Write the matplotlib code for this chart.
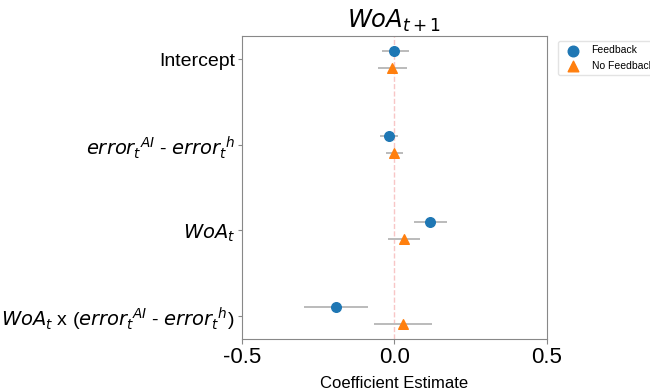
import numpy as np
import matplotlib.pyplot as plt

plt.rcParams['font.family'] = ['Liberation Sans', 'DejaVu Sans']
plt.rcParams['mathtext.fontset'] = 'dejavusans'
plt.rcParams['axes.unicode_minus'] = False

terms = ["Intercept",
         "$error_t{}^{AI}$ - $error_t{}^{h}$",
         "$WoA_t$",
         "$WoA_t$ x ($error_t{}^{AI}$ - $error_t{}^{h}$)"]

fb_coef = [0.000, -0.017, 0.117, -0.192]
fb_low = [-0.042, -0.046, 0.063, -0.297]
fb_high = [0.047, 0.011, 0.174, -0.085]

nofb_coef = [-0.007, -0.001, 0.030, 0.028]
nofb_low = [-0.053, -0.026, -0.020, -0.066]
nofb_high = [0.040, 0.027, 0.083, 0.122]

fig = plt.figure(figsize=(6.5, 3.91), dpi=100)
ax = fig.add_axes([0.372, 0.133, 0.4695, 0.775])

y = np.arange(len(terms))
off = 0.1

ax.axvline(0, color='#f4a0a0', ls='--', lw=1, alpha=0.6, zorder=0)

for coef, lo, hi, dy, marker, color, label in [
        (fb_coef, fb_low, fb_high, -off, 'o', '#1f77b4', 'Feedback'),
        (nofb_coef, nofb_low, nofb_high, off, '^', '#ff7f0e', 'No Feedback')]:
    coef = np.array(coef)
    ax.hlines(y + dy, lo, hi, color='#bbbbbb', lw=1.4, zorder=1)
    ax.scatter(coef, y + dy, marker=marker, s=48, color=color, label=label, zorder=2)

ax.set_yticks(y)
ax.set_yticklabels(terms, fontsize=14)
ax.set_ylim(len(terms) - 1 + 0.27, -0.27)
ax.set_xlim(-0.5, 0.5)
ax.set_xticks([-0.5, 0.0, 0.5])
ax.tick_params(axis='x', labelsize=16, pad=2)
ax.tick_params(axis='y', pad=2, length=3)
ax.set_xlabel("Coefficient Estimate", fontsize=12, labelpad=6)
ax.set_title("$WoA_{t+1}$", fontsize=17.5, pad=6)

for s in ax.spines.values():
    s.set_color('#888888')
ax.tick_params(color='#888888')

ax.legend(loc='upper left', bbox_to_anchor=(1.02, 1.0), fontsize=7.5,
          frameon=True, edgecolor='#dddddd', markerscale=1.1)

fig.savefig('out.png', dpi=100)
